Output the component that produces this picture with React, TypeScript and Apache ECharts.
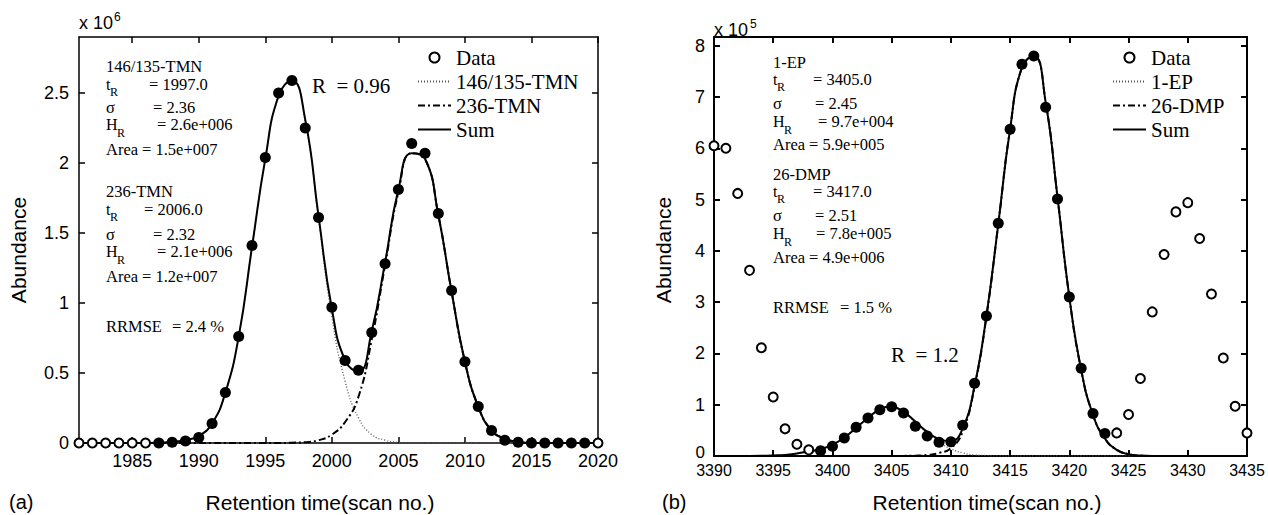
import React, { useEffect, useRef } from "react";
import * as echarts from "echarts";

// ---------- Panel (a) ----------
const scanA = [1981,1982,1983,1984,1985,1986,1987,1988,1989,1990,1991,1992,1993,1994,1995,1996,1997,1998,1999,2000,2001,2002,2003,2004,2005,2006,2007,2008,2009,2010,2011,2012,2013,2014,2015,2016,2017,2018,2019,2020];
const abundA = [0,0,0,0,0,0,0,0.005,0.015,0.04,0.14,0.36,0.76,1.41,2.04,2.5,2.59,2.25,1.61,0.97,0.59,0.52,0.79,1.28,1.81,2.14,2.07,1.64,1.09,0.58,0.26,0.09,0.02,0.005,0,0,0,0,0,0];
const fitRangeA = [1987, 2019];
const peak1A = [0,0,0,0,0,0,0.003,0.008,0.02,0.05,0.14,0.36,0.76,1.4,2.03,2.48,2.59,2.3,1.6,0.9,0.44,0.18,0.06,0.02,0.005,0,0,0,0,0,0,0,0,0,0,0,0,0,0,0];
const peak2A = [0,0,0,0,0,0,0,0,0,0,0,0,0,0,0,0,0.002,0.006,0.02,0.06,0.15,0.33,0.74,1.27,1.79,2.07,2.03,1.63,1.08,0.58,0.26,0.09,0.03,0.008,0,0,0,0,0,0];
const sumA = [0,0,0,0,0,0,0.003,0.008,0.02,0.05,0.14,0.36,0.76,1.4,2.03,2.48,2.59,2.31,1.62,0.96,0.59,0.51,0.8,1.29,1.81,2.07,2.03,1.63,1.08,0.58,0.26,0.09,0.03,0.008,0,0,0,0,0,0];
const xTicksA = [1985,1990,1995,2000,2005,2010,2015,2020];
const yTicksA = [0,0.5,1,1.5,2,2.5];
const namesA = ["146/135-TMN", "236-TMN"];

// ---------- Panel (b) ----------
const scanB = [3390,3391,3392,3393,3394,3395,3396,3397,3398,3399,3400,3401,3402,3403,3404,3405,3406,3407,3408,3409,3410,3411,3412,3413,3414,3415,3416,3417,3418,3419,3420,3421,3422,3423,3424,3425,3426,3427,3428,3429,3430,3431,3432,3433,3434,3435];
const abundB = [6.05,6.0,5.12,3.62,2.11,1.15,0.53,0.23,0.12,0.1,0.19,0.35,0.56,0.74,0.9,0.96,0.84,0.58,0.39,0.27,0.28,0.6,1.42,2.73,4.54,6.37,7.64,7.8,6.8,5.01,3.1,1.71,0.83,0.44,0.45,0.81,1.51,2.81,3.93,4.76,4.94,4.24,3.16,1.91,0.97,0.45];
const fitRangeB = [3399, 3423];
const curveScanB = [3393,3394,3395,3396,3397,3398,3399,3400,3401,3402,3403,3404,3405,3406,3407,3408,3409,3410,3411,3412,3413,3414,3415,3416,3417,3418,3419,3420,3421,3422,3423,3424,3425,3426,3427,3428,3429,3430];
const peak1B = [0,0.003,0.01,0.02,0.05,0.09,0.13,0.22,0.36,0.55,0.74,0.91,0.96,0.86,0.66,0.45,0.27,0.14,0.06,0.02,0.008,0.002,0,0,0,0,0,0,0,0,0,0,0,0,0,0,0,0];
const peak2B = [0,0,0,0,0,0,0,0,0,0,0,0,0,0.002,0.006,0.02,0.06,0.15,0.48,1.35,2.72,4.52,6.38,7.58,7.8,6.9,5.05,3.1,1.68,0.8,0.34,0.12,0.035,0.008,0,0,0,0];
const sumB = [0,0.003,0.01,0.02,0.05,0.09,0.13,0.22,0.36,0.55,0.74,0.91,0.96,0.86,0.67,0.47,0.33,0.29,0.54,1.37,2.73,4.52,6.38,7.58,7.8,6.9,5.05,3.1,1.68,0.8,0.34,0.12,0.035,0.008,0,0,0,0];
const xTicksB = [3390,3395,3400,3405,3410,3415,3420,3425,3430,3435];
const yTicksB = [0,1,2,3,4,5,6,7,8];
const yLabelsB = [1,2,3,4,5,6,7,8]; // the "0" label is placed just above the corner so it clears "3390"
const namesB = ["1-EP", "26-DMP"];

const SERIF = "'Liberation Serif', 'Times New Roman', serif";
const SANS = "'Liberation Sans', Arial, sans-serif";

const FILLED = { color: "#000", borderColor: "#000", borderWidth: 0, opacity: 1 };
const OPEN = { color: "#fff", borderColor: "#000", borderWidth: 2, opacity: 1 };

function points(xs: number[], ys: number[], range: number[]) {
  return xs.map((x, i) => {
    const fitted = x >= range[0] && x <= range[1];
    return { value: [x, ys[i]], symbolSize: fitted ? 11 : 9, itemStyle: fitted ? FILLED : OPEN };
  });
}
function pairs(xs: number[], ys: number[]) {
  return xs.map((x, i) => [x, ys[i]]);
}
const plain = (v: number) => String(v);

function xAxis(grid: number, min: number, max: number, ticks: number[], top: boolean, fs: number, margin: number, lw: number) {
  return {
    type: "value", gridIndex: grid, min, max, position: top ? "top" : "bottom",
    axisLine: { show: true, onZero: false, lineStyle: { color: "#000", width: lw } },
    axisTick: { show: true, inside: true, length: 6, customValues: ticks, lineStyle: { color: "#000", width: lw } },
    axisLabel: { show: !top, customValues: ticks, formatter: plain, fontSize: fs, fontFamily: SANS, color: "#000", margin },
    splitLine: { show: false },
  };
}
function yAxis(grid: number, min: number, max: number, ticks: number[], labels: number[], right: boolean, fs: number, margin: number, lw: number) {
  return {
    type: "value", gridIndex: grid, min, max, position: right ? "right" : "left",
    axisLine: { show: true, onZero: false, lineStyle: { color: "#000", width: lw } },
    axisTick: { show: true, inside: true, length: 6, customValues: ticks, lineStyle: { color: "#000", width: lw } },
    axisLabel: { show: !right, customValues: labels, formatter: plain, fontSize: fs, fontFamily: SANS, color: "#000", margin },
    splitLine: { show: false },
  };
}

const DOT = { color: "#555", width: 1.3, type: [1, 2] };
const DASHDOT = { color: "#000", width: 2, type: [7, 3, 2, 3] };
const SOLID = { color: "#000", width: 2, type: "solid" };

function lineSeries(name: string, data: number[][], xi: number, yi: number, style: any, z: number) {
  return {
    type: "line", name, data, xAxisIndex: xi, yAxisIndex: yi, symbol: "none", showSymbol: false, smooth: 0.5,
    lineStyle: style, itemStyle: { color: "#000" }, z, silent: true,
  };
}

function txt(x: number, y: number, text: string, fontSize: number, family = SERIF, extra: any = {}) {
  return { type: "text", x, y, silent: true, ...extra, style: { text, fontSize, fontFamily: family, fill: "#000", verticalAlign: "middle", align: "left", ...(extra.style || {}) } };
}

type Row = [string, number, string?, number?];
// [label, centerY, value, eqX]; label "tR" / "HR" -> subscripted R
function statBlock(x: number, rows: Row[]) {
  const out: any[] = [];
  rows.forEach(([label, y, value, eqX]) => {
    if (label === "tR") {
      out.push(txt(x, y, "t", 16));
      out.push(txt(x + 4, y + 8, "R", 12));
    } else if (label === "HR") {
      out.push(txt(x, y, "H", 16));
      out.push(txt(x + 11, y + 9, "R", 12));
    } else {
      out.push(txt(x, y, label, 16.5));
    }
    if (value) out.push(txt(eqX as number, y, value, 16.5));
  });
  return out;
}

const annotA: Row[] = [
  [namesA[0], 66], ["tR", 84, "= 1997.0", 149], ["σ", 107, "= 2.36", 153], ["HR", 124, "= 2.6e+006", 157], ["Area", 149, "= 1.5e+007", 142],
  [namesA[1], 191], ["tR", 209, "= 2006.0", 144], ["σ", 234, "= 2.32", 153], ["HR", 251, "= 2.1e+006", 157], ["Area", 276, "= 1.2e+007", 142],
  ["RRMSE", 326, "= 2.4 %", 172],
];
const annotB: Row[] = [
  [namesB[0], 62], ["tR", 79, "= 3405.0", 813], ["σ", 103, "= 2.45", 815], ["HR", 121, "= 9.7e+004", 818], ["Area", 144, "= 5.9e+005", 809],
  [namesB[1], 174], ["tR", 191, "= 3417.0", 813], ["σ", 215, "= 2.51", 815], ["HR", 233, "= 7.8e+005", 816], ["Area", 257, "= 4.9e+006", 809],
  ["RRMSE", 307, "= 1.5 %", 840],
];

function legendCfg(left: number, names: string[]) {
  const lineItem = (name: string) => ({ name, itemStyle: { opacity: 0, borderWidth: 0 } });
  return {
    left, top: 42, orient: "vertical", itemWidth: 33, itemHeight: 10, itemGap: 3, selectedMode: false,
    textStyle: { fontFamily: SERIF, fontSize: 21, color: "#000" },
    data: [
      { name: "Data", icon: "circle", itemStyle: { color: "#fff", borderColor: "#000", borderWidth: 2, opacity: 1 } },
      lineItem(names[0]), lineItem(names[1]), lineItem("Sum"),
    ],
  };
}

const option: any = {
  animation: false,
  backgroundColor: "#fff",
  grid: [
    { left: 79, top: 37, width: 519, height: 406 },
    { left: 714, top: 37, width: 533, height: 419 },
  ],
  xAxis: [
    xAxis(0, 1981, 2020, xTicksA, false, 18, 9, 1.5),
    xAxis(0, 1981, 2020, xTicksA, true, 18, 9, 1.5),
    xAxis(1, 3390, 3435, xTicksB, false, 16, 6, 2),
    xAxis(1, 3390, 3435, xTicksB, true, 16, 6, 2),
  ],
  yAxis: [
    yAxis(0, 0, 2.9, yTicksA, yTicksA, false, 18, 10, 1.5),
    yAxis(0, 0, 2.9, yTicksA, yTicksA, true, 18, 10, 1.5),
    yAxis(1, 0, 8.17, yTicksB, yLabelsB, false, 18, 9, 2),
    yAxis(1, 0, 8.17, yTicksB, yLabelsB, true, 18, 9, 2),
  ],
  legend: [legendCfg(412, namesA), legendCfg(1107, namesB)],
  series: [
    lineSeries(namesA[0], pairs(scanA, peak1A), 0, 0, DOT, 2),
    lineSeries(namesA[1], pairs(scanA, peak2A), 0, 0, DASHDOT, 2),
    lineSeries("Sum", pairs(scanA, sumA), 0, 0, SOLID, 3),
    { type: "scatter", name: "Data", data: points(scanA, abundA, fitRangeA), xAxisIndex: 0, yAxisIndex: 0, symbol: "circle", itemStyle: { opacity: 1 }, z: 4, silent: true },
    lineSeries(namesB[0], pairs(curveScanB, peak1B), 2, 2, DOT, 2),
    lineSeries(namesB[1], pairs(curveScanB, peak2B), 2, 2, DASHDOT, 2),
    lineSeries("Sum", pairs(curveScanB, sumB), 2, 2, SOLID, 3),
    { type: "scatter", name: "Data", data: points(scanB, abundB, fitRangeB), xAxisIndex: 2, yAxisIndex: 2, symbol: "circle", itemStyle: { opacity: 1 }, z: 4, silent: true },
  ],
  graphic: [
    // multipliers
    txt(79, 23, "x 10", 18, SANS),
    txt(114, 17, "6", 12, SANS),
    txt(714, 30, "x 10", 18, SANS),
    txt(750, 24, "5", 12, SANS),
    // "0" label of panel (b)'s y axis
    txt(705, 452, "0", 17, SANS, { style: { align: "right" } }),
    // axis titles
    txt(18, 250, "Abundance", 21, SANS, { rotation: Math.PI / 2, style: { align: "center" } }),
    txt(663, 250, "Abundance", 21, SANS, { rotation: Math.PI / 2, style: { align: "center" } }),
    txt(320, 502, "Retention time(scan no.)", 21, SANS, { style: { align: "center" } }),
    txt(987, 502, "Retention time(scan no.)", 21, SANS, { style: { align: "center" } }),
    txt(9, 502, "(a)", 20, SANS),
    txt(662, 502, "(b)", 20, SANS),
    // resolution
    txt(312, 86, "R  = 0.96", 21),
    txt(891, 355, "R  = 1.2", 21),
    ...statBlock(106, annotA),
    ...statBlock(773, annotB),
  ],
};

export default function App() {
  const ref = useRef<HTMLDivElement>(null);
  useEffect(() => {
    const chart = echarts.init(ref.current as HTMLDivElement, null, { renderer: "svg" });
    chart.setOption(option);
    return () => chart.dispose();
  }, []);
  return (
    <div
      ref={ref}
      style={{ position: "absolute", left: 0, top: 0, width: 1268, height: 515, background: "#fff" }}
    />
  );
}
